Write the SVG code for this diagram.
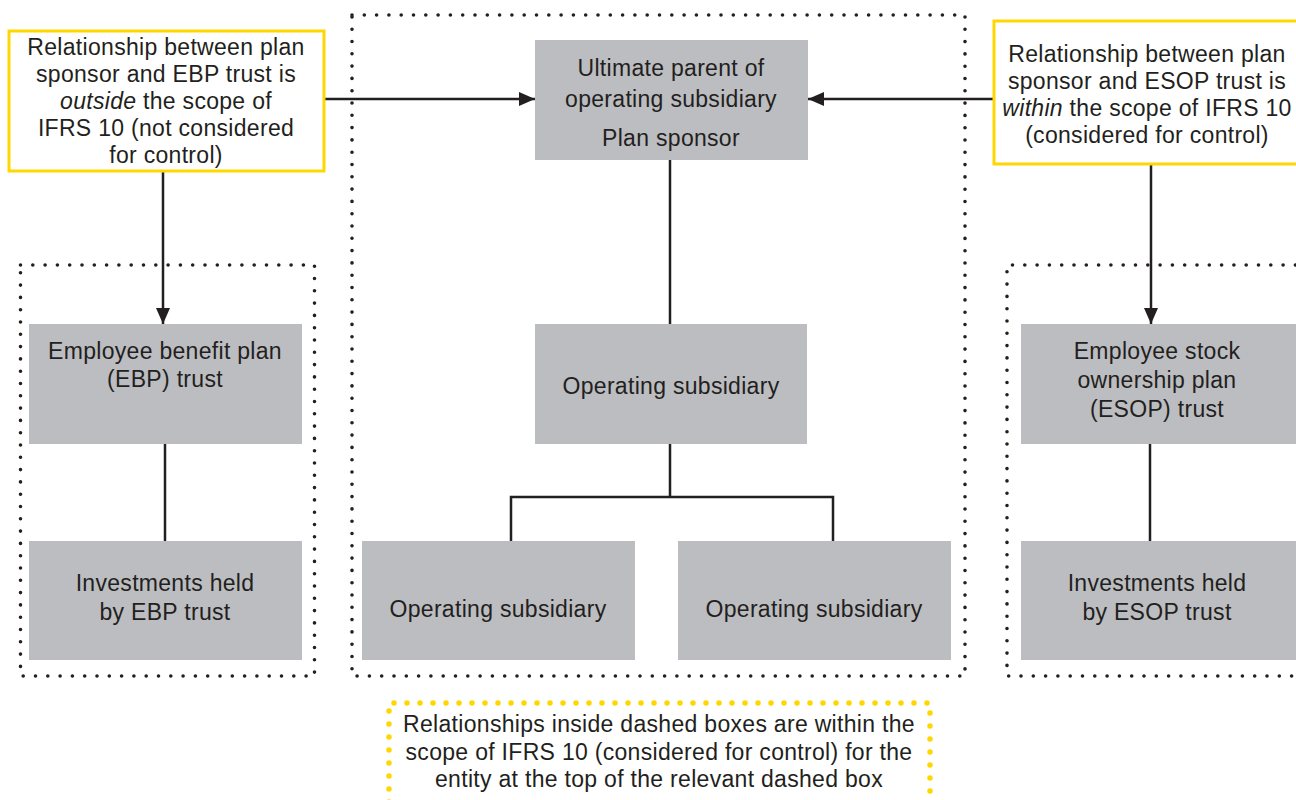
<svg xmlns="http://www.w3.org/2000/svg" width="1296" height="800" viewBox="0 0 1296 800">
<defs>
<style>
.node{fill:#BCBDC0;}
.note{fill:#FFFFFF;stroke:#FFD700;stroke-width:3;}
.dots{fill:none;stroke:#231F20;stroke-width:3.6;stroke-linecap:round;stroke-dasharray:0 12.3;}
.ydots{fill:none;stroke:#FFD700;stroke-width:5.5;stroke-linecap:round;stroke-dasharray:0 13;}
.conn{fill:none;stroke:#231F20;stroke-width:2.5;}
text{font-family:"Liberation Sans",Arial,sans-serif;font-size:23px;letter-spacing:0.3px;fill:#231F20;text-anchor:middle;}
</style>
<marker id="arr" viewBox="0 0 16 14" refX="16" refY="7" markerWidth="16" markerHeight="14" markerUnits="userSpaceOnUse" orient="auto">
<path d="M0,0 L16,7 L0,14 Z" fill="#231F20"/>
</marker>
</defs>
<rect width="1296" height="800" fill="#FFFFFF"/>

<g id="scopes">
<rect class="dots" x="352" y="15" width="613" height="661"/>
<rect class="dots" x="20.5" y="265" width="294" height="411"/>
<path class="dots" d="M1320,265 H1007 V676 H1320"/>
</g>

<g id="connectors">
<line class="conn" x1="324" y1="99" x2="535" y2="99" marker-end="url(#arr)"/>
<line class="conn" x1="993" y1="99" x2="808" y2="99" marker-end="url(#arr)"/>
<line class="conn" x1="163" y1="172" x2="163" y2="324" marker-end="url(#arr)"/>
<line class="conn" x1="1151" y1="164" x2="1151" y2="324" marker-end="url(#arr)"/>
<line class="conn" x1="670" y1="160" x2="670" y2="324"/>
<path class="conn" d="M670,444 V497 M511,541 V497 H833 V541"/>
<line class="conn" x1="165" y1="444" x2="165" y2="541"/>
<line class="conn" x1="1150" y1="444" x2="1150" y2="541"/>
</g>

<g id="note-ebp">
<rect class="note" x="9" y="31" width="315" height="140"/>
<text x="166" y="55">Relationship between plan</text>
<text x="166" y="82">sponsor and EBP trust is</text>
<text x="166" y="109"><tspan font-style="italic">outside</tspan> the scope of</text>
<text x="166" y="136">IFRS 10 (not considered</text>
<text x="166" y="163">for control)</text>
</g>

<g id="note-esop">
<rect class="note" x="994" y="21" width="320" height="143"/>
<text x="1147" y="62">Relationship between plan</text>
<text x="1147" y="89">sponsor and ESOP trust is</text>
<text x="1147" y="116"><tspan font-style="italic">within</tspan> the scope of IFRS 10</text>
<text x="1147" y="143">(considered for control)</text>
</g>

<g id="parent">
<rect class="node" x="535" y="40" width="273" height="120"/>
<text x="671" y="76">Ultimate parent of</text>
<text x="671" y="107">operating subsidiary</text>
<text x="671" y="146">Plan sponsor</text>
</g>

<g id="opsub-mid">
<rect class="node" x="535" y="324" width="272" height="120"/>
<text x="671" y="394">Operating subsidiary</text>
</g>

<g id="opsub-left">
<rect class="node" x="362" y="541" width="273" height="119"/>
<text x="498" y="617">Operating subsidiary</text>
</g>

<g id="opsub-right">
<rect class="node" x="678" y="541" width="273" height="119"/>
<text x="814" y="617">Operating subsidiary</text>
</g>

<g id="ebp-trust">
<rect class="node" x="29" y="324" width="273" height="120"/>
<text x="165" y="359">Employee benefit plan</text>
<text x="165" y="387">(EBP) trust</text>
</g>

<g id="ebp-investments">
<rect class="node" x="29" y="541" width="273" height="119"/>
<text x="165" y="591">Investments held</text>
<text x="165" y="620">by EBP trust</text>
</g>

<g id="esop-trust">
<rect class="node" x="1021" y="324" width="290" height="120"/>
<text x="1157" y="359">Employee stock</text>
<text x="1157" y="388">ownership plan</text>
<text x="1157" y="417">(ESOP) trust</text>
</g>

<g id="esop-investments">
<rect class="node" x="1021" y="541" width="290" height="119"/>
<text x="1157" y="591">Investments held</text>
<text x="1157" y="620">by ESOP trust</text>
</g>

<g id="legend">
<path class="ydots" d="M389,815 V703 H930 V815"/>
<text x="659" y="732">Relationships inside dashed boxes are within the</text>
<text x="659" y="760">scope of IFRS 10 (considered for control) for the</text>
<text x="659" y="787">entity at the top of the relevant dashed box</text>
</g>
</svg>
